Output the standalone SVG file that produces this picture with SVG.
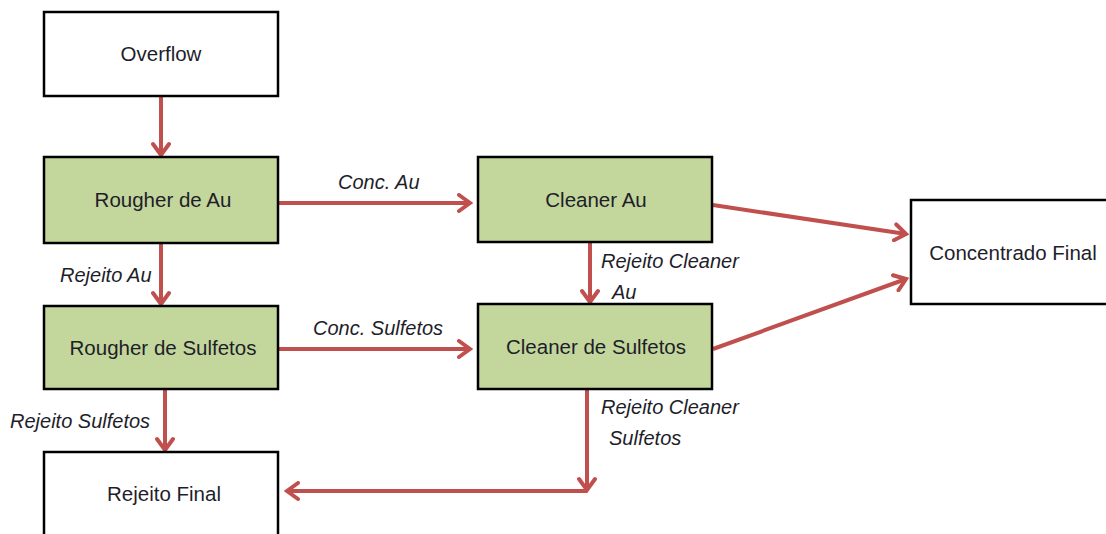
<svg xmlns="http://www.w3.org/2000/svg" width="1106" height="534" viewBox="0 0 1106 534">
<style>
.box{stroke:#000;stroke-width:2.5}
.white{fill:#fff}
.green{fill:#c3d69b}
.t{font-family:"Liberation Sans",Arial,sans-serif;font-size:20.5px;fill:#1e1e2a;text-anchor:middle}
.l{font-family:"Liberation Sans",Arial,sans-serif;font-size:20px;font-style:italic;fill:#1e1e2a}
.c{stroke:#c0504d;stroke-width:4;fill:none}
</style>
<defs>
<marker id="b" markerWidth="20" markerHeight="20" viewBox="0 0 20 20" refX="17" refY="10" orient="auto" markerUnits="userSpaceOnUse">
<path d="M6,2 L17,10 L6,18" fill="none" stroke="#c0504d" stroke-width="4" stroke-linecap="round" stroke-linejoin="miter"/>
</marker>
</defs>
<rect width="1106" height="534" fill="#fff"/>
<g id="connectors">
<line class="c" x1="161" y1="97" x2="161" y2="155" marker-end="url(#b)"/>
<line class="c" x1="161" y1="244" x2="161" y2="304" marker-end="url(#b)"/>
<line class="c" x1="165" y1="390" x2="165" y2="450" marker-end="url(#b)"/>
<line class="c" x1="279" y1="203" x2="470" y2="203" marker-end="url(#b)"/>
<line class="c" x1="279" y1="349" x2="470" y2="349" marker-end="url(#b)"/>
<line class="c" x1="590" y1="243" x2="590" y2="302" marker-end="url(#b)"/>
<line class="c" x1="713" y1="205" x2="906" y2="234" marker-end="url(#b)"/>
<line class="c" x1="713" y1="349" x2="906" y2="279" marker-end="url(#b)"/>
<line class="c" x1="587" y1="390" x2="587" y2="490" marker-end="url(#b)"/>
<line class="c" x1="587" y1="491" x2="287" y2="491" marker-end="url(#b)"/>
</g>
<g id="overflow"><rect class="box white" x="44" y="12" width="234" height="84"/><text class="t" x="161" y="61">Overflow</text></g>
<g id="rougher-au"><rect class="box green" x="44" y="157" width="234" height="86"/><text class="t" x="163" y="207">Rougher de Au</text></g>
<g id="rougher-sulfetos"><rect class="box green" x="44" y="306" width="234" height="83"/><text class="t" x="163" y="355">Rougher de Sulfetos</text></g>
<g id="rejeito-final"><rect class="box white" x="44" y="452" width="234" height="84"/><text class="t" x="164" y="501">Rejeito Final</text></g>
<g id="cleaner-au"><rect class="box green" x="478" y="157" width="234" height="85"/><text class="t" x="596" y="207">Cleaner Au</text></g>
<g id="cleaner-sulfetos"><rect class="box green" x="478" y="304" width="234" height="85"/><text class="t" x="596" y="354">Cleaner de Sulfetos</text></g>
<g id="concentrado-final"><rect class="box white" x="911" y="200" width="197" height="104"/><text class="t" x="1013" y="260">Concentrado Final</text></g>
<g id="labels">
<text class="l" x="338" y="189">Conc. Au</text>
<text class="l" x="60" y="282">Rejeito Au</text>
<text class="l" x="313" y="335">Conc. Sulfetos</text>
<text class="l" x="601" y="268">Rejeito Cleaner</text>
<text class="l" x="612" y="299">Au</text>
<text class="l" x="10" y="428">Rejeito Sulfetos</text>
<text class="l" x="601" y="414">Rejeito Cleaner</text>
<text class="l" x="609" y="445">Sulfetos</text>
</g>
</svg>
